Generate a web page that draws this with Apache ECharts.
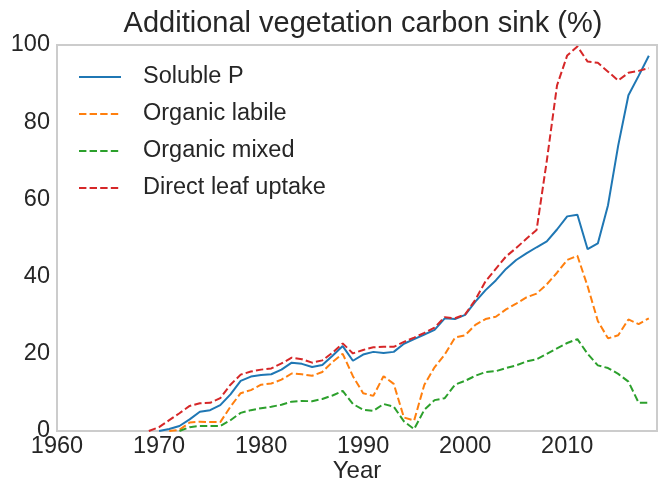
<!DOCTYPE html>
<html>
<head>
<meta charset="utf-8">
<script src="https://cdn.jsdelivr.net/npm/echarts@6/dist/echarts.min.js"></script>
<style>
    html, body { margin: 0; padding: 0; background: #fff; }
    #chart { width: 659px; height: 483px; }
</style>
</head>
<body>
<div id="chart"></div>
<script>
    // years 1969 .. 2018
    var years = [];
    for (var y = 1969; y <= 2018; y++) years.push(y);

    var solubleP = [null, 0, 0.5, 1.3, 3.0, 5.0, 5.4, 6.7, 9.5, 13.0,
        14.1, 14.5, 14.7, 15.9, 17.7, 17.4, 16.6, 17.1, 19.5, 22.0,
        18.2, 19.8, 20.5, 20.2, 20.5, 22.6, 23.8, 25.0, 26.2, 29.2,
        29.0, 30.1, 33.5, 36.5, 39.0, 42.0, 44.3, 46.0, 47.6, 49.1,
        52.2, 55.6, 56.0, 47.1, 48.6, 58.5, 74.0, 87.0, 92.0, 97.2];

    var organicLabile = [null, null, 0, 0.3, 2.2, 2.4, 2.3, 2.3, 6.3, 9.8,
        10.6, 12.0, 12.3, 13.3, 14.9, 14.7, 14.3, 15.3, 17.9, 20.0,
        14.2, 9.8, 9.1, 14.2, 12.2, 3.5, 2.7, 12.0, 16.5, 19.8,
        24.2, 24.8, 27.5, 29.0, 29.6, 31.5, 33.0, 34.6, 35.6, 38.0,
        41.0, 44.3, 45.4, 37.5, 28.5, 24.0, 24.8, 28.9, 27.7, 29.2];

    var organicMixed = [null, null, null, 0, 1.0, 1.3, 1.3, 1.3, 2.8, 4.7,
        5.4, 5.9, 6.3, 6.8, 7.6, 7.8, 7.7, 8.3, 9.2, 10.4,
        7.0, 5.5, 5.2, 7.0, 6.3, 2.5, 0.5, 5.5, 8.0, 8.5,
        12.0, 13.0, 14.3, 15.3, 15.5, 16.3, 17.0, 18.0, 18.6, 20.0,
        21.4, 22.8, 23.8, 20.0, 17.0, 16.3, 14.8, 12.8, 7.3, 7.3];

    var directLeaf = [0, 1.0, 2.8, 4.6, 6.5, 7.2, 7.3, 8.5, 12.0, 14.6,
        15.4, 15.9, 16.2, 17.5, 19.0, 18.6, 17.7, 18.3, 20.3, 22.7,
        20.1, 21.0, 21.7, 21.8, 21.8, 23.1, 24.2, 25.4, 26.8, 29.5,
        29.2, 30.2, 34.0, 38.8, 42.0, 45.2, 47.4, 49.8, 52.1, 70.0,
        89.5, 97.3, 99.6, 95.7, 95.4, 93.1, 90.8, 92.8, 93.3, 94.0];

    function pairs(vals) {
        return years.map(function (yr, i) { return [yr, vals[i]]; });
    }

    var font = "'Liberation Sans', Arial, sans-serif";
    var textColor = '#262626';
    var dash = [7.4, 3.2];

    var myChart = echarts.init(document.getElementById('chart'));
    var option = {
        animation: false,
        backgroundColor: '#ffffff',
        title: {
            text: 'Additional vegetation carbon sink (%)',
            left: 358,
            top: 4,
            textAlign: 'center',
            textStyle: { fontFamily: font, fontSize: 29, fontWeight: 'normal', color: textColor }
        },
        legend: {
            orient: 'vertical',
            left: 78,
            top: 65,
            padding: 0,
            itemWidth: 42,
            itemHeight: 22,
            itemGap: 13,
            itemStyle: { opacity: 0 },
            textStyle: {
                fontFamily: font, fontSize: 23.5, color: textColor,
                lineHeight: 22, padding: [0, 0, 0, 17]
            }
        },
        grid: {
            left: 57, right: 2, top: 45, bottom: 52,
            outerBoundsMode: 'none',
            show: true, borderColor: '#cccccc', borderWidth: 2
        },
        xAxis: {
            type: 'value',
            min: 1960,
            max: 2018.8,
            interval: 10,
            name: 'Year',
            nameLocation: 'middle',
            nameGap: 28,
            nameMoveOverlap: false,
            nameTextStyle: { fontFamily: font, fontSize: 24, color: textColor },
            axisLine: { show: false },
            axisTick: { show: false },
            splitLine: { show: false },
            axisLabel: {
                fontFamily: font, fontSize: 23.5, color: textColor, margin: 4,
                showMaxLabel: false,
                formatter: function (v) { return String(v); }
            }
        },
        yAxis: {
            type: 'value',
            min: 0,
            max: 100,
            interval: 20,
            axisLine: { show: false },
            axisTick: { show: false },
            splitLine: { show: false },
            axisLabel: { fontFamily: font, fontSize: 23.5, color: textColor, margin: 7 }
        },
        series: [
            {
                name: 'Soluble P', type: 'line', symbol: 'none',
                data: pairs(solubleP),
                lineStyle: { color: '#1f77b4', width: 2 },
                itemStyle: { color: '#1f77b4' }
            },
            {
                name: 'Organic labile', type: 'line', symbol: 'none',
                data: pairs(organicLabile),
                lineStyle: { color: '#ff7f0e', width: 2, type: dash },
                itemStyle: { color: '#ff7f0e' }
            },
            {
                name: 'Organic mixed', type: 'line', symbol: 'none',
                data: pairs(organicMixed),
                lineStyle: { color: '#2ca02c', width: 2, type: dash },
                itemStyle: { color: '#2ca02c' }
            },
            {
                name: 'Direct leaf uptake', type: 'line', symbol: 'none',
                data: pairs(directLeaf),
                lineStyle: { color: '#d62728', width: 2, type: dash },
                itemStyle: { color: '#d62728' }
            }
        ]
    };

    option && myChart.setOption(option);
</script>
</body>
</html>
